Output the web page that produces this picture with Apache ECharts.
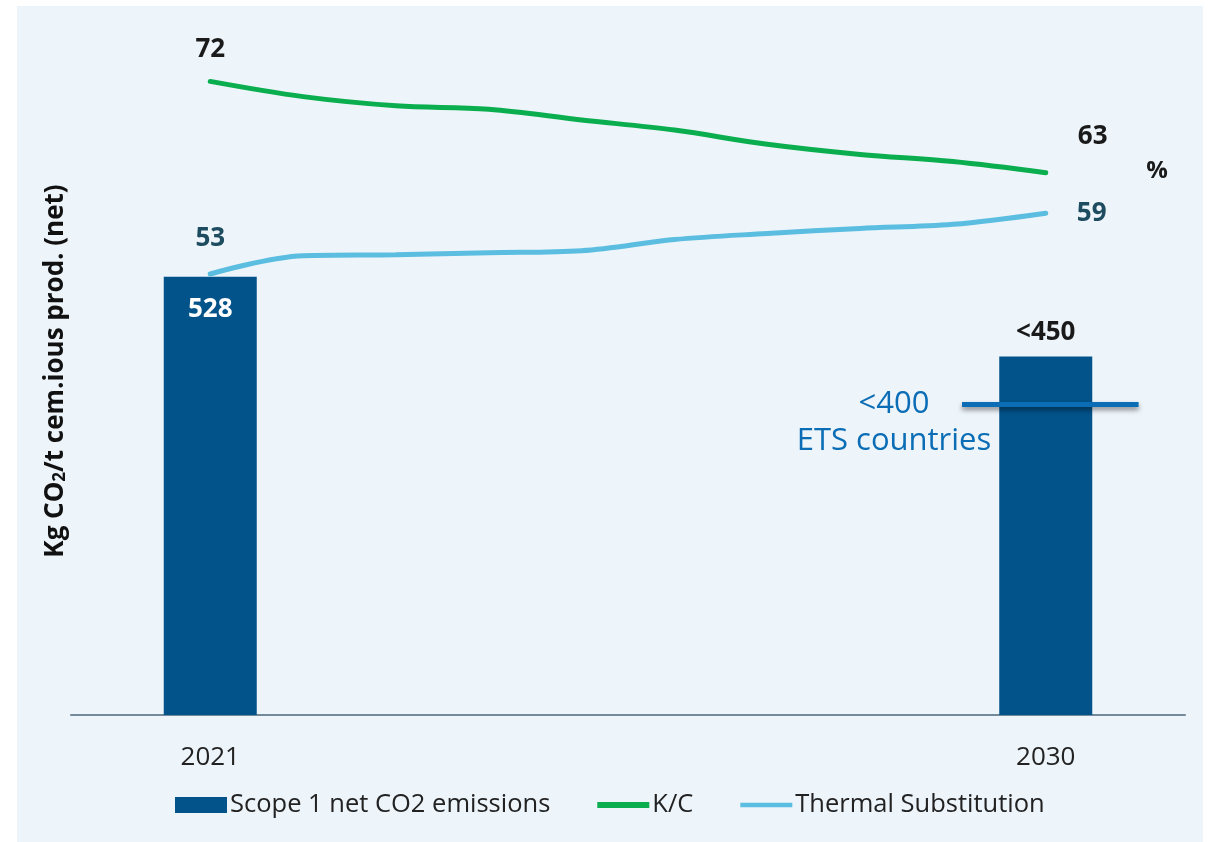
<!DOCTYPE html>
<html>
<head>
<meta charset="utf-8">
<script src="https://cdn.jsdelivr.net/npm/echarts@6/dist/echarts.min.js"></script>
<style>
html,body{margin:0;padding:0;background:#ffffff;}
#chart{width:1212px;height:842px;}
</style>
</head>
<body>
<div id="chart"></div>
<script>
// ---- data ----
var years = ['2020','2021','2022','2023','2024','2025','2026','2027','2028','2029','2030','2031'];
var shownYears = ['2021','2030'];
var barYears = ['2021','2030'];
var barValues = [528, 432];
var barLabels = ['528', '<450'];
var lineYears = ['2021','2022','2023','2024','2025','2026','2027','2028','2029','2030'];
var kcValues = [72, 70.5, 69.6, 69.25, 68.2, 67.2, 65.8, 64.8, 64.1, 63];
var tsValues = [53, 54.8, 54.9, 55.1, 55.3, 56.4, 57.0, 57.5, 57.9, 59];
var etsValue = 375;
var etsRange = ['2029', '2031'];
var etsText = ['<400', 'ETS countries'];
var seriesNames = ['Scope 1 net CO2 emissions', 'K/C', 'Thermal Substitution'];

var FONT = '"Open Sans", "Noto Sans", sans-serif';
var BAR = '#02538A', GREEN = '#0BAE4E', LIGHT = '#5BBDE0', ETS = '#0B6DB5';

function barData() {
  return years.map(function (y) {
    var i = barYears.indexOf(y);
    if (i < 0) return '-';
    var first = i === 0;
    return {
      value: barValues[i],
      label: {
        show: true,
        formatter: barLabels[i],
        position: first ? 'insideTop' : 'top',
        distance: first ? 20 : 11,
        color: first ? '#ffffff' : '#1a1a1a'
      }
    };
  });
}
function lineData(values, color, firstDist, lastDist) {
  return years.map(function (y) {
    var i = lineYears.indexOf(y);
    if (i < 0) return '-';
    var item = { value: values[i] };
    if (i === 0) item.label = { show: true, position: 'top', distance: firstDist, color: color };
    if (i === lineYears.length - 1) item.label = { show: true, position: 'right', distance: lastDist.d, offset: [0, lastDist.dy], color: color };
    return item;
  });
}

var chart = echarts.init(document.getElementById('chart'), null, { renderer: 'canvas' });
var option = {
  animation: false,
  textStyle: { fontFamily: FONT },
  graphic: [
    { type: 'rect', z: -10, shape: { x: 17, y: 6, width: 1186, height: 840 }, style: { fill: '#EDF4FA' } },
    { type: 'text', x: 1157, y: 171, style: { text: '%', font: 'bold 24px ' + FONT, fill: '#1a1a1a', align: 'center', verticalAlign: 'middle' } },
    { type: 'text', x: 894, y: 423, z: 10, style: { text: etsText.join('\n'), font: '31px ' + FONT, fill: ETS, align: 'center', verticalAlign: 'middle', lineHeight: 37 } }
  ],
  grid: { left: 71, right: 27, top: 51, bottom: 127, containLabel: false },
  legend: {
    left: 175, top: 792, padding: 0,
    itemWidth: 52, itemHeight: 16, itemGap: 47,
    textStyle: { fontSize: 25.5, color: '#222', fontFamily: FONT, padding: [0, 0, 0, -2] },
    data: [
      { name: seriesNames[0], icon: 'rect' },
      { name: seriesNames[1], icon: 'path://M0,0h9v1h-9z' },
      { name: seriesNames[2], icon: 'path://M0,0h11v1h-11z' }
    ]
  },
  xAxis: {
    type: 'category',
    data: years,
    axisLine: { lineStyle: { color: '#71899A', width: 2 } },
    axisTick: { show: false },
    axisLabel: {
      interval: 0, margin: 30, fontSize: 26, color: '#222', fontFamily: FONT,
      formatter: function (v) { return shownYears.indexOf(v) >= 0 ? v : ''; }
    }
  },
  yAxis: [
    {
      type: 'value', min: 0, max: 800,
      splitLine: { show: false }, axisLabel: { show: false }, axisLine: { show: false }, axisTick: { show: false },
      name: 'Kg CO{sub|2}/t cem.ious prod. (net)',
      nameLocation: 'middle', nameRotate: 90, nameGap: 2,
      nameTextStyle: {
        fontSize: 26, fontWeight: 'bold', color: '#111', fontFamily: FONT, padding: [0, 0, 0, 24],
        rich: { sub: { fontSize: 17, fontWeight: 'bold', color: '#111', verticalAlign: 'bottom', padding: [9, 0, 0, 0] } }
      }
    },
    {
      type: 'value', min: 9.5, max: 75, position: 'right',
      splitLine: { show: false }, axisLabel: { show: false }, axisLine: { show: false }, axisTick: { show: false }
    }
  ],
  series: [
    {
      name: seriesNames[0], type: 'bar', yAxisIndex: 0, barWidth: 93,
      itemStyle: { color: BAR },
      label: { fontSize: 26, fontWeight: 'bold', fontFamily: FONT },
      data: barData(),
      markLine: {
        silent: true, symbol: 'none',
        lineStyle: { color: ETS, width: 5, type: 'solid', shadowBlur: 5, shadowColor: 'rgba(0,0,0,0.45)', shadowOffsetY: 3 },
        label: { show: false },
        data: [[{ xAxis: etsRange[0], yAxis: etsValue, x: 962 }, { xAxis: etsRange[1], yAxis: etsValue }]]
      },
      z: 2
    },
    {
      name: seriesNames[1], type: 'line', yAxisIndex: 1, smooth: 0.35, showSymbol: true, symbol: 'circle', symbolSize: 0.1,
      lineStyle: { color: GREEN, width: 5, cap: 'round' }, itemStyle: { color: GREEN },
      label: { fontSize: 26, fontWeight: 'bold', fontFamily: FONT },
      data: lineData(kcValues, '#1a1a1a', 19, { d: 32, dy: -36 }),
      z: 3
    },
    {
      name: seriesNames[2], type: 'line', yAxisIndex: 1, smooth: 0.35, showSymbol: true, symbol: 'circle', symbolSize: 0.1,
      lineStyle: { color: LIGHT, width: 5, cap: 'round' }, itemStyle: { color: LIGHT },
      label: { fontSize: 26, fontWeight: 'bold', fontFamily: FONT },
      data: lineData(tsValues, '#1D4C60', 22, { d: 31, dy: 0 }),
      z: 3
    }
  ]
};
chart.setOption(option);
</script>
</body>
</html>
